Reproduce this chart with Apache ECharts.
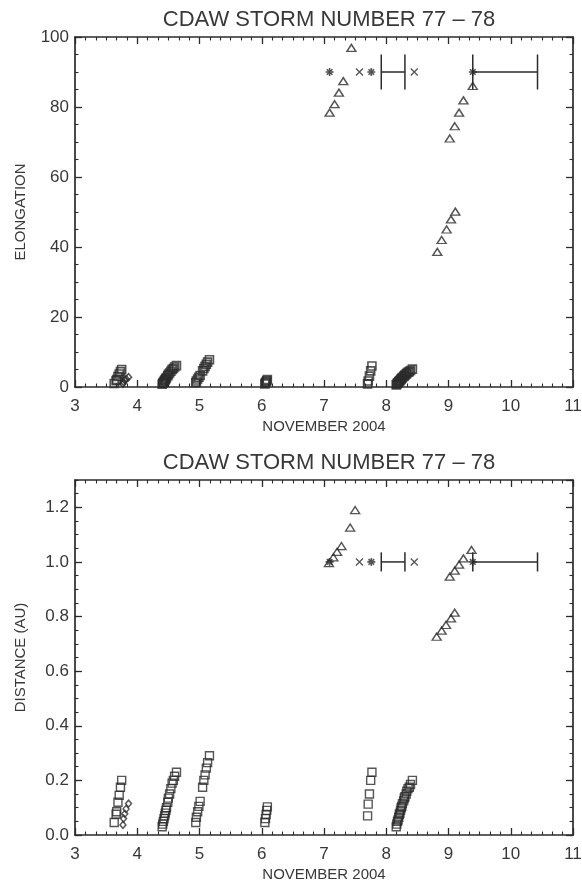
<!DOCTYPE html>
<html>
<head>
<meta charset="utf-8">
<script src="https://cdn.jsdelivr.net/npm/echarts@6/dist/echarts.min.js"></script>
<style>
  html, body { margin: 0; padding: 0; background: #ffffff; }
  #chart { width: 582px; height: 884px; }
</style>
</head>
<body>
<div id="chart"></div>
<script>
// Tracked features for CDAW storms 77-78, November 2004.
// Day of month (fractional), elongation in degrees, distance in AU.

// Near-Sun features (squares), in six groups
const squareDay = [
  3.63, 3.66, 3.67, 3.69, 3.71, 3.73, 3.75,
  4.40, 4.41, 4.42, 4.43, 4.44, 4.45, 4.46, 4.47, 4.49, 4.50, 4.52, 4.54, 4.56, 4.58, 4.60, 4.63,
  4.94, 4.95, 4.97, 4.99, 5.01, 5.05, 5.07, 5.09, 5.11, 5.13, 5.16,
  6.05, 6.06, 6.07, 6.08, 6.09,
  7.70, 7.71, 7.73, 7.75, 7.77,
  8.16, 8.17, 8.18, 8.19, 8.20, 8.21, 8.22, 8.23, 8.24, 8.25, 8.26, 8.28, 8.29, 8.30, 8.32, 8.33, 8.35, 8.37, 8.39, 8.42
];
const squareElong = [
  1.0, 1.8, 2.1, 3.0, 3.7, 4.4, 5.0,
  0.8, 1.1, 1.3, 1.6, 1.9, 2.1, 2.4, 2.7, 3.2, 3.6, 4.0, 4.5, 5.0, 5.3, 5.7, 6.1,
  1.2, 1.7, 2.3, 2.8, 3.3, 4.6, 5.3, 5.9, 6.5, 7.1, 7.8,
  0.9, 1.2, 1.5, 1.8, 2.1,
  0.9, 1.7, 3.1, 4.6, 6.0,
  0.6, 0.8, 1.1, 1.2, 1.5, 1.7, 1.8, 2.1, 2.3, 2.5, 2.7, 3.0, 3.2, 3.4, 3.7, 3.9, 4.2, 4.4, 4.7, 5.1
];
const squareDist = [
  0.046, 0.076, 0.085, 0.120, 0.145, 0.175, 0.200,
  0.030, 0.040, 0.050, 0.060, 0.070, 0.080, 0.090, 0.100, 0.120, 0.135, 0.150, 0.170, 0.190, 0.200, 0.215, 0.230,
  0.046, 0.065, 0.085, 0.105, 0.123, 0.175, 0.200, 0.220, 0.245, 0.265, 0.290,
  0.046, 0.060, 0.075, 0.090, 0.103,
  0.070, 0.113, 0.150, 0.200, 0.230,
  0.030, 0.040, 0.050, 0.055, 0.065, 0.075, 0.080, 0.090, 0.100, 0.105, 0.115, 0.125, 0.135, 0.140, 0.150, 0.160, 0.170, 0.175, 0.185, 0.200
];

// Second feature on Nov 3 (diamonds)
const diamondDay = [3.77, 3.78, 3.80, 3.82, 3.86];
const diamondElong = [0.9, 1.4, 1.9, 2.3, 2.8];
const diamondDist = [0.037, 0.060, 0.078, 0.095, 0.115];

// Heliospheric imager tracks (triangles)
const triangleDayElong = [7.09, 7.17, 7.24, 7.31, 7.44, 8.82, 8.89, 8.97, 9.04, 9.11, 9.02, 9.10, 9.17, 9.24, 9.39];
const triangleElong = [78.4, 80.8, 84.1, 87.4, 96.9, 38.6, 42.0, 45.0, 47.9, 50.1, 71.0, 74.5, 78.4, 81.9, 86.0];
const triangleDayDist = [7.08, 7.15, 7.21, 7.28, 7.42, 7.50, 8.81, 8.89, 8.96, 9.04, 9.10, 9.02, 9.10, 9.17, 9.24, 9.37];
const triangleDist = [0.996, 1.017, 1.037, 1.058, 1.126, 1.190, 0.726, 0.748, 0.769, 0.793, 0.814, 0.946, 0.968, 0.990, 1.013, 1.044];

// In-situ arrivals at Earth (asterisks, crosses) and time windows (bars)
const starDay = [7.09, 7.76, 9.39];
const crossDay = [7.57, 8.45];
const windowStart = [7.92, 9.39];
const windowEnd = [8.30, 10.43];
const earthElong = 90;
const earthDist = 1.0;

// Axis ranges and titles
const dayRange = [3, 11];
const elongRange = [0, 100];
const distRange = [0, 1.3];
const chartTitle = 'CDAW STORM NUMBER 77 \u2013 78';
const xName = 'NOVEMBER 2004';
const elongName = 'ELONGATION';
const distName = 'DISTANCE (AU)';

const ink = '#2b2b2b';
const textColor = '#383838';
const fontFamily = 'Liberation Sans, Arial, Helvetica, sans-serif';

const zip = (xs, ys) => xs.map((x, i) => [x, ys[i]]);

const markerStyle = { color: 'none', borderColor: ink, borderWidth: 1.4 };
const starPath = 'path://M5,0L5,10M0,5L10,5M1.5,1.5L8.5,8.5M8.5,1.5L1.5,8.5';
const crossPath = 'path://M0,0L10,10M10,0L0,10';

function windowRenderer(capHalf) {
  return function (params, api) {
    const y = api.value(2);
    const a = api.coord([api.value(0), y]);
    const b = api.coord([api.value(1), y]);
    const up = api.coord([api.value(0), y + capHalf])[1];
    const dn = api.coord([api.value(0), y - capHalf])[1];
    const style = { stroke: ink, lineWidth: 1.5 };
    return {
      type: 'group',
      children: [
        { type: 'line', shape: { x1: a[0], y1: a[1], x2: b[0], y2: b[1] }, style: style },
        { type: 'line', shape: { x1: a[0], y1: up, x2: a[0], y2: dn }, style: style },
        { type: 'line', shape: { x1: b[0], y1: up, x2: b[0], y2: dn }, style: style }
      ]
    };
  };
}

const axisLine = { show: true, onZero: false, lineStyle: { color: ink, width: 1.7 } };
const majorTick = { show: true, inside: true, length: 7, lineStyle: { color: ink, width: 1.3 } };
const minorTickX = { show: true, splitNumber: 6, length: 3.5, lineStyle: { color: ink, width: 1.1 } };
const labelStyle = { color: textColor, fontSize: 17, fontFamily: fontFamily };
const nameStyle = { color: textColor, fontSize: 15, fontFamily: fontFamily };

function dayAxis(gridIndex, position, withLabels) {
  const ax = {
    type: 'value', gridIndex: gridIndex, position: position,
    min: dayRange[0], max: dayRange[1], interval: 1,
    axisLine: axisLine, axisTick: majorTick, minorTick: minorTickX,
    splitLine: { show: false }, minorSplitLine: { show: false },
    axisLabel: withLabels ? Object.assign({ margin: 11 }, labelStyle) : { show: false }
  };
  if (withLabels) {
    ax.name = xName;
    ax.nameLocation = 'middle';
    ax.nameGap = 32;
    ax.nameTextStyle = nameStyle;
    ax.nameMoveOverlap = false;
  }
  return ax;
}

function valueAxis(gridIndex, position, range, interval, opts) {
  return Object.assign({
    type: 'value', gridIndex: gridIndex, position: position,
    min: range[0], max: range[1], interval: interval,
    axisLine: axisLine, axisTick: majorTick,
    minorTick: { show: false },
    splitLine: { show: false }, minorSplitLine: { show: false },
    axisLabel: { show: false }
  }, opts || {});
}

const titleStyle = { fontSize: 22, fontWeight: 'normal', color: textColor, fontFamily: fontFamily };

const option = {
  animation: false,
  backgroundColor: '#ffffff',
  textStyle: { fontFamily: fontFamily },
  title: [
    { text: chartTitle, left: 324, top: 4, textAlign: 'center', textStyle: titleStyle },
    { text: chartTitle, left: 324, top: 447, textAlign: 'center', textStyle: titleStyle }
  ],
  grid: [
    { left: 75, right: 9, top: 37, height: 350, outerBoundsMode: 'none', containLabel: false },
    { left: 75, right: 9, top: 480, height: 355, outerBoundsMode: 'none', containLabel: false }
  ],
  xAxis: [
    dayAxis(0, 'bottom', true),
    dayAxis(0, 'top', false),
    dayAxis(1, 'bottom', true),
    dayAxis(1, 'top', false)
  ],
  yAxis: [
    // elongation panel
    valueAxis(0, 'left', elongRange, 20, {
      minorTick: { show: true, splitNumber: 4, length: 3.5, lineStyle: { color: ink, width: 1.1 } },
      axisLabel: Object.assign({ margin: 6 }, labelStyle),
      name: elongName, nameLocation: 'middle', nameGap: 47, nameTextStyle: nameStyle, nameMoveOverlap: false
    }),
    valueAxis(0, 'right', elongRange, 20, {
      minorTick: { show: true, splitNumber: 4, length: 3.5, lineStyle: { color: ink, width: 1.1 } }
    }),
    // distance panel: labelled ticks every 0.2, small ticks every 0.05
    valueAxis(1, 'left', distRange, 0.2, {
      axisLabel: Object.assign({ margin: 6, showMaxLabel: false,
        formatter: function (v) { return v.toFixed(1); } }, labelStyle),
      name: distName, nameLocation: 'middle', nameGap: 47, nameTextStyle: nameStyle, nameMoveOverlap: false
    }),
    valueAxis(1, 'left', distRange, 0.05, {
      axisLine: { show: false },
      axisTick: { show: true, inside: true, length: 3.5, lineStyle: { color: ink, width: 1.1 } }
    }),
    valueAxis(1, 'right', distRange, 0.2, {}),
    valueAxis(1, 'right', distRange, 0.05, {
      axisLine: { show: false },
      axisTick: { show: true, inside: true, length: 3.5, lineStyle: { color: ink, width: 1.1 } }
    })
  ],
  series: [
    // elongation panel
    { type: 'scatter', xAxisIndex: 0, yAxisIndex: 0, symbol: 'rect', symbolSize: 8,
      itemStyle: { color: 'none', borderColor: ink, borderWidth: 1.6 }, data: zip(squareDay, squareElong) },
    { type: 'scatter', xAxisIndex: 0, yAxisIndex: 0, symbol: 'diamond', symbolSize: [6, 7],
      itemStyle: { color: 'none', borderColor: ink, borderWidth: 1.6 }, data: zip(diamondDay, diamondElong) },
    { type: 'scatter', xAxisIndex: 0, yAxisIndex: 0, symbol: 'triangle', symbolSize: [9, 7],
      itemStyle: markerStyle, data: zip(triangleDayElong, triangleElong) },
    { type: 'scatter', xAxisIndex: 0, yAxisIndex: 0, symbol: starPath, symbolSize: 8,
      itemStyle: { color: 'none', borderColor: ink, borderWidth: 1.6 },
      data: starDay.map(d => [d, earthElong]) },
    { type: 'scatter', xAxisIndex: 0, yAxisIndex: 0, symbol: crossPath, symbolSize: 7,
      itemStyle: { color: 'none', borderColor: ink, borderWidth: 1.3 },
      data: crossDay.map(d => [d, earthElong]) },
    { type: 'custom', xAxisIndex: 0, yAxisIndex: 0, renderItem: windowRenderer(5),
      encode: { x: [0, 1], y: 2 },
      data: windowStart.map((s, i) => [s, windowEnd[i], earthElong]) },
    // distance panel
    { type: 'scatter', xAxisIndex: 2, yAxisIndex: 2, symbol: 'rect', symbolSize: 8,
      itemStyle: markerStyle, data: zip(squareDay, squareDist) },
    { type: 'scatter', xAxisIndex: 2, yAxisIndex: 2, symbol: 'diamond', symbolSize: [6, 7],
      itemStyle: markerStyle, data: zip(diamondDay, diamondDist) },
    { type: 'scatter', xAxisIndex: 2, yAxisIndex: 2, symbol: 'triangle', symbolSize: [9, 7],
      itemStyle: markerStyle, data: zip(triangleDayDist, triangleDist) },
    { type: 'scatter', xAxisIndex: 2, yAxisIndex: 2, symbol: starPath, symbolSize: 8,
      itemStyle: { color: 'none', borderColor: ink, borderWidth: 1.6 },
      data: starDay.map(d => [d, earthDist]) },
    { type: 'scatter', xAxisIndex: 2, yAxisIndex: 2, symbol: crossPath, symbolSize: 7,
      itemStyle: { color: 'none', borderColor: ink, borderWidth: 1.3 },
      data: crossDay.map(d => [d, earthDist]) },
    { type: 'custom', xAxisIndex: 2, yAxisIndex: 2, renderItem: windowRenderer(0.035),
      encode: { x: [0, 1], y: 2 },
      data: windowStart.map((s, i) => [s, windowEnd[i], earthDist]) }
  ]
};

const chart = echarts.init(document.getElementById('chart'), null, { renderer: 'canvas' });
chart.setOption(option);
</script>
</body>
</html>
